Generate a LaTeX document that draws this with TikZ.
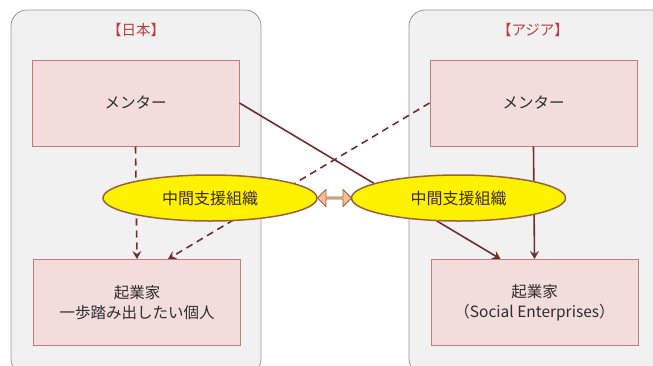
\documentclass[tikz,border=0pt]{standalone}
\usepackage{fontspec}
\setmainfont{Noto Sans CJK JP}
\usetikzlibrary{shapes.geometric,shapes.arrows,arrows.meta}
\definecolor{boxfill}{RGB}{242,220,220}
\definecolor{boxline}{RGB}{192,125,125}
\definecolor{panelfill}{RGB}{241,241,241}
\definecolor{panelline}{RGB}{150,150,150}
\definecolor{linkcol}{RGB}{115,45,45}
\definecolor{titlecol}{RGB}{190,60,60}
\definecolor{ovalline}{RGB}{150,100,60}
\definecolor{txtcol}{RGB}{45,45,45}
\definecolor{ovaltxt}{RGB}{60,45,15}
\definecolor{peach}{RGB}{250,190,150}
\begin{document}
\begin{tikzpicture}[x=1pt, y=-1pt,
  panel/.style={fill=panelfill, draw=panelline, line width=0.8pt, rounded corners=16pt},
  region/.style={text=titlecol, font=\fontsize{14.5}{17}\selectfont},
  actor/.style={rectangle, fill=boxfill, draw=boxline, line width=1pt, minimum width=207pt, minimum height=86pt, align=center, text=txtcol, font=\fontsize{15.5}{20}\selectfont},
  hub/.style={ellipse, fill=yellow, draw=ovalline, line width=1.5pt, minimum width=214pt, minimum height=46pt, inner sep=0pt, text=ovaltxt, font=\fontsize{16}{18}\selectfont},
  link/.style={draw=linkcol, line width=1.6pt, -{Stealth[length=8pt, width=9pt, inset=3pt]}},
  weak/.style={link, dash pattern=on 7pt off 5pt}]
\useasboundingbox (0,0) rectangle (653,365);
\clip (0,0) rectangle (653,365);
% panels
\draw[panel] (11,10) rectangle (261,375);
\draw[panel] (409,10) rectangle (680,375);
\node[region] (titleJ) at (136,30) {【日本】};
\node[region] (titleA) at (533,30) {【アジア】};
% boxes
\node[actor] (mentorJ) at (135.5,103) {メンター};
\node[actor] (mentorA) at (533.5,103) {メンター};
\node[actor] (entJ) at (137,302.5) {起業家\\一歩踏み出したい個人};
\node[actor] (entA) at (534.5,302.5) {起業家\\（Social Enterprises）};
% links
\draw[weak] (mentorJ.south) -- (entJ.north);
\draw[weak] (mentorA.west) -- ([xshift=31pt]entJ.north);
\draw[link] (mentorJ.east) -- ([xshift=-34pt]entA.north);
\draw[link] (mentorA.south) -- (entA.north);
% support organisations
\node[hub] (hubJ) at (210,198) {中間支援組織};
\node[hub] (hubA) at (458.5,198) {中間支援組織};
\node[double arrow, fill=peach, draw=ovalline, line width=0.8pt, minimum width=17pt, minimum height=34pt, double arrow head extend=3pt, inner sep=0pt] (bridge) at (334.5,198) {};
\end{tikzpicture}
\end{document}
